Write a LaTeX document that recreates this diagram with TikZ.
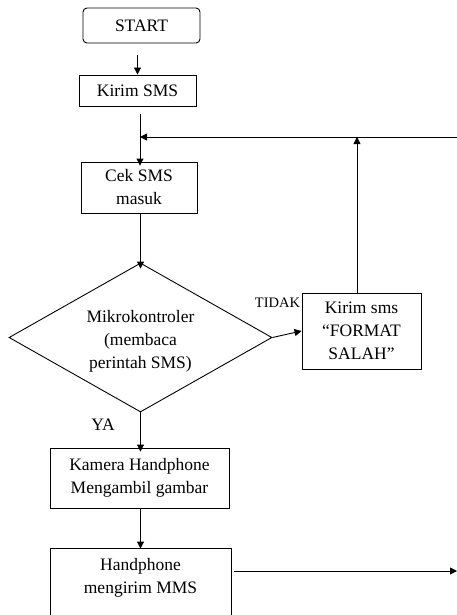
\documentclass[tikz,border=0pt]{standalone}
\usepackage{fontspec}
\setmainfont{Liberation Serif}
\usetikzlibrary{shapes.geometric,arrows.meta}
\begin{document}
\begin{tikzpicture}[x=1pt,y=-1pt,
  every node/.style={font=\fontsize{17.5}{23}\selectfont, align=center, inner sep=0pt},
  box/.style={draw, line width=0.9pt},
  flow/.style={draw, line width=0.9pt, -{Triangle[length=7pt,width=7pt]}},
  plain/.style={draw, line width=0.9pt}]
\useasboundingbox (0,0) rectangle (457,615);
\clip (0,0) rectangle (457,615);
\node[box, rounded corners=4pt, minimum width=117pt, minimum height=35pt] (start) at (141.5,25.5) {START};
\node[box, minimum width=117pt, minimum height=31pt] (kirim) at (137.5,90.5) {Kirim SMS};
\node[box, minimum width=116pt, minimum height=51pt] (cek) at (139,187.5) {Cek SMS\\masuk};
\node[box, diamond, minimum width=263pt, minimum height=149pt] (dec) at (140.5,337.5) {};
\node (dectext) at (140.5,341) {Mikrokontroler\\(membaca\\perintah SMS)};
\node[box, minimum width=119pt, minimum height=76pt] (salah) at (361.5,331) {Kirim sms\\“FORMAT\\SALAH”};
\node[box, minimum width=179pt, minimum height=60pt] (kamera) at (139.5,478) {Kamera Handphone\\Mengambil gambar};
\node[box, minimum width=181pt, minimum height=92pt] (mms) at (140.5,594) {};
\node (mmstext) at (140.5,578) {Handphone\\mengirim MMS};
\node[font=\fontsize{14.5}{17}\selectfont] (tidak) at (277.5,303) {TIDAK};
\node (ya) at (103,425) {YA};
\coordinate (fbR) at (457,137);
\coordinate (fbL) at (140,137);
\coordinate (up) at (357,137);
\coordinate (mmsR) at (457,571);
\draw[flow] ([xshift=-4pt,yshift=-12pt]start.south) -- ([xshift=-4pt]start.south |- kirim.north);
\draw[flow] ([xshift=2.5pt,yshift=-8pt]kirim.south) -- ([xshift=2.5pt,yshift=-4pt]kirim.south |- cek.north);
\draw[flow] (fbR) -- (fbL);
\draw[flow] (dec.north |- cek.south) -- ([yshift=-6pt]dec.north);
\draw[flow] (dec.east) -- (salah.west);
\draw[flow] (salah.north -| up) -- (up);
\draw[flow] (dec.south) -- ([yshift=-4pt]dec.south |- kamera.north);
\draw[flow] (mms.north |- kamera.south) -- ([yshift=-1pt]mms.north);
\draw[flow] ([xshift=3pt]mms.east |- mmsR) -- (mmsR);
\end{tikzpicture}
\end{document}
